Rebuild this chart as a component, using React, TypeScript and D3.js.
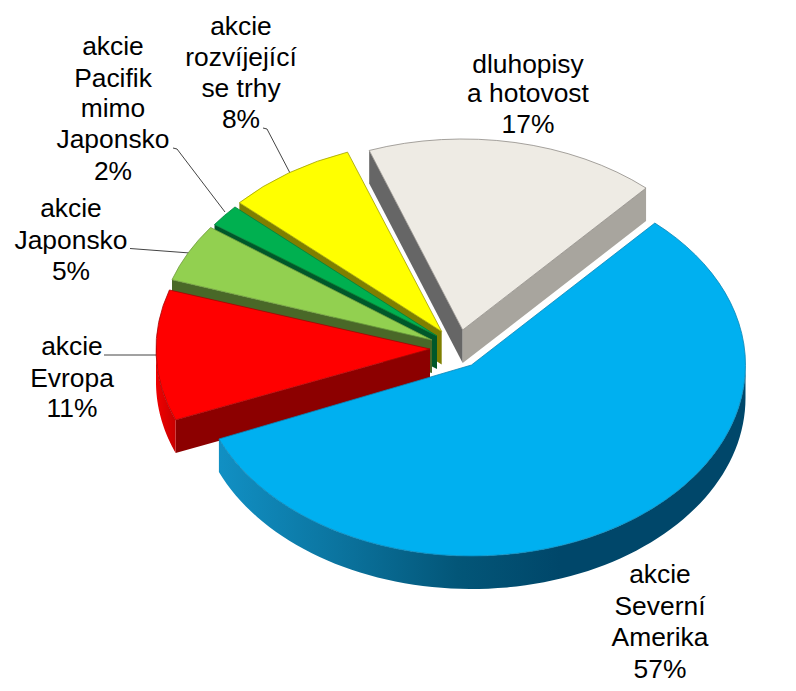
import React from "react";
import * as d3 from "d3";

const categories = ["akcie Severní Amerika", "akcie Evropa", "akcie Japonsko", "akcie Pacifik mimo Japonsko", "akcie rozvíjející se trhy", "dluhopisy a hotovost"];
const shares = [57, 11, 5, 2, 8, 17];
const topColors = ["#00b0f0", "#ff0000", "#92d050", "#00b050", "#ffff00", "#eeebe4"];
const edgeColors = ["#0a86b8", "#a80000", "#6e9a3c", "#00803a", "#a0a000", "#8f8c86"];
const startWallColors = ["#000", "#8c0000", "#496828", "#00582a", "#7f7f00", "#666666"];
const endWallColors = ["#000", "#000", "#000", "#000", "#000", "#a8a59e"];
const rimFills = ["url(#rimBlue)", "url(#rimRed)", "#496828", "#00582a", "#7f7f00", "#a8a59e"];
const apexX = [471.5, 430, 432, 437, 441.7, 462.7];
const apexY = [365, 349, 340, 336, 331.5, 330];
// the source is drawn in perspective, so the edges sit a little off the flat pie angles (degrees)
const startNudge = [0, 1, 1.6, 0.9, 0.4, -0.75];
const endNudge = [0, 1.2, 1.3, 0.5, -0.9, 0];

const labels: { lines: string[]; x: number; baselines: number[] }[] = [
  { lines: ["akcie", "Severní", "Amerika", "57%"], x: 660, baselines: [583, 615, 646, 678] },
  { lines: ["akcie", "Evropa", "11%"], x: 72, baselines: [355, 387, 417] },
  { lines: ["akcie", "Japonsko", "5%"], x: 71, baselines: [217, 249, 280] },
  { lines: ["akcie", "Pacifik", "mimo", "Japonsko", "2%"], x: 113, baselines: [55, 87, 117, 148, 180] },
  { lines: ["akcie", "rozvíjející", "se trhy", "8%"], x: 241, baselines: [35, 66, 97, 128] },
  { lines: ["dluhopisy", "a hotovost", "17%"], x: 528, baselines: [73, 102, 133] },
];
const leaders: [number, number][][] = [
  [[104, 355], [158, 355]],
  [[130, 248.5], [190, 253]],
  [[173, 148], [177, 149], [225, 212]],
  [[263, 128], [267, 129], [290, 173]],
];

const RX = 274;
const RY = 191;
const DEPTH = 33;
const FONT = "'Liberation Sans', Arial, sans-serif";

const rad = (deg: number) => (deg * Math.PI) / 180;
const pie = d3.pie<number>().sort(null).startAngle(rad(42)).endAngle(rad(402));
const arcs = pie(shares).map((d, i) => ({
  ...d,
  startAngle: d.startAngle + rad(startNudge[i]),
  endAngle: d.endAngle + rad(endNudge[i]),
}));
const arcGen = d3.arc<d3.PieArcDatum<number>>().innerRadius(0).outerRadius(RX);
const polyline = d3.line();

function onEllipse(i: number, a: number, drop = 0): [number, number] {
  return [apexX[i] + RX * Math.sin(a), apexY[i] - RY * Math.cos(a) + drop];
}

function wallPath(i: number, a: number) {
  const ax = apexX[i];
  const ay = apexY[i];
  const p = onEllipse(i, a);
  return polyline([[ax, ay], p, [p[0], p[1] + DEPTH], [ax, ay + DEPTH]]) + "Z";
}

function rimPath(i: number, a0: number, a1: number) {
  const lo = Math.max(a0, Math.PI / 2);
  const hi = Math.min(a1, (3 * Math.PI) / 2);
  if (hi <= lo) return null;
  const steps = d3.range(0, 1.0001, 1 / 80).map((t) => lo + (hi - lo) * t);
  const top = steps.map((a) => onEllipse(i, a));
  const bottom = steps.map((a) => onEllipse(i, a, DEPTH)).reverse();
  return polyline([...top, ...bottom]) + "Z";
}

function isVisible(angle: number, side: "start" | "end") {
  const s = Math.sin(angle);
  return side === "start" ? s < 0 : s > 0;
}

// back to front: the slices further up the picture go first
const drawOrder = [5, 4, 3, 2, 1, 0];

export default function App() {
  return (
    <svg width={796} height={691} style={{ position: "absolute", left: 0, top: 0, background: "#fff" }}>
      <defs>
        <linearGradient id="rimBlue" gradientUnits="userSpaceOnUse" x1={218} x2={560} y1={0} y2={0}>
          <stop offset="0" stopColor="#1190c4" />
          <stop offset="0.35" stopColor="#0b749f" />
          <stop offset="0.7" stopColor="#035678" />
          <stop offset="1" stopColor="#00476a" />
        </linearGradient>
        <linearGradient id="rimRed" gradientUnits="userSpaceOnUse" x1={157} x2={176} y1={0} y2={0}>
          <stop offset="0" stopColor="#ee0000" />
          <stop offset="1" stopColor="#c80000" />
        </linearGradient>
      </defs>
      {leaders.map((pts, i) => (
        <path key={i} d={polyline(pts) ?? ""} fill="none" stroke="#444" strokeWidth={1} />
      ))}
      {drawOrder.map((i) => {
        const d = arcs[i];
        const rim = rimPath(i, d.startAngle, d.endAngle);
        return (
          <g key={categories[i]}>
            {isVisible(d.startAngle, "start") && <path d={wallPath(i, d.startAngle)} fill={startWallColors[i]} />}
            {isVisible(d.endAngle, "end") && <path d={wallPath(i, d.endAngle)} fill={endWallColors[i]} />}
            {rim && <path d={rim} fill={rimFills[i]} />}
            <path
              d={arcGen(d) ?? ""}
              transform={`translate(${apexX[i]},${apexY[i]}) scale(1,${RY / RX})`}
              fill={topColors[i]}
              stroke={edgeColors[i]}
              strokeWidth={0.8}
              vectorEffect="non-scaling-stroke"
            />
          </g>
        );
      })}
      {labels.map((l) =>
        l.lines.map((t, j) => (
          <text key={l.x + t + j} x={l.x} y={l.baselines[j]} textAnchor="middle" fontFamily={FONT} fontSize={26.4} fill="#000">
            {t}
          </text>
        ))
      )}
    </svg>
  );
}
